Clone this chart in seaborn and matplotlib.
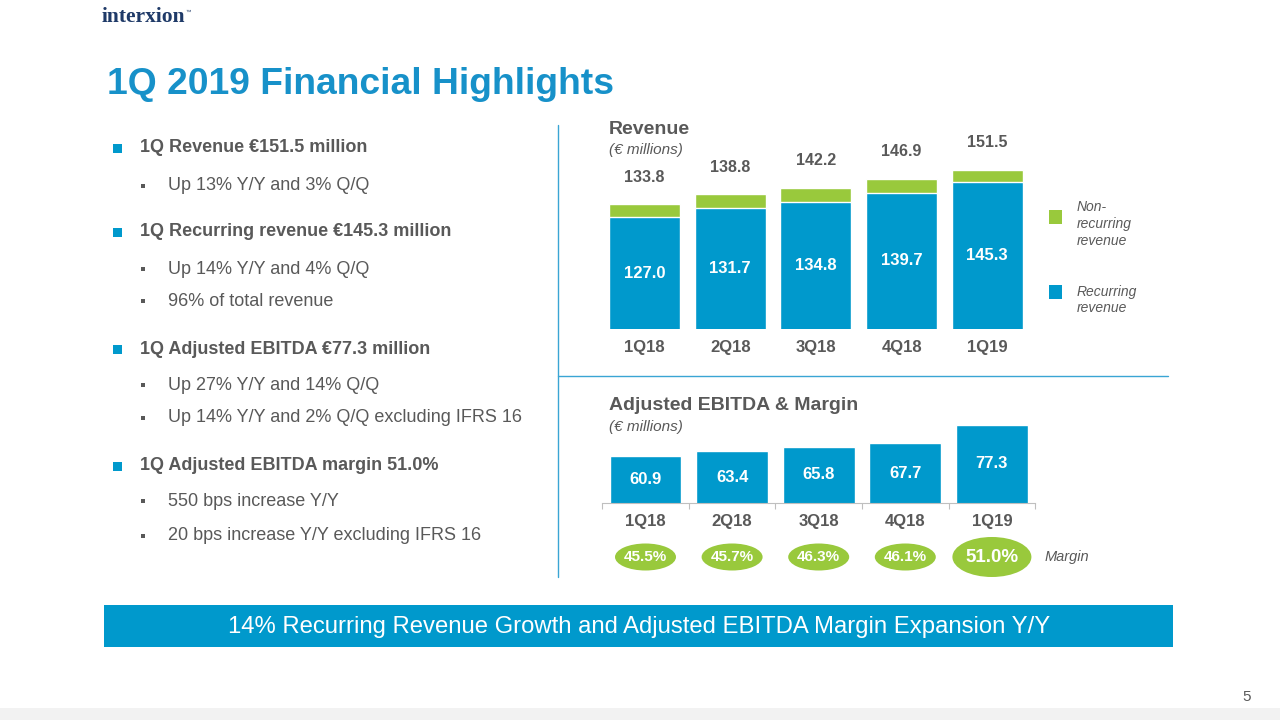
import matplotlib
matplotlib.use("Agg")
import matplotlib.pyplot as plt
from matplotlib.patches import Rectangle, Ellipse
import seaborn as sns
import pandas as pd

# ---------------- data ----------------
quarters = ["1Q18", "2Q18", "3Q18", "4Q18", "1Q19"]
total_revenue = [133.8, 138.8, 142.2, 146.9, 151.5]
recurring_revenue = [127.0, 131.7, 134.8, 139.7, 145.3]
adj_ebitda = [60.9, 63.4, 65.8, 67.7, 77.3]
ebitda_margin = [45.5, 45.7, 46.3, 46.1, 51.0]

bullets = [
    (0, "1Q Revenue €151.5 million"),
    (1, "Up 13% Y/Y and 3% Q/Q"),
    (0, "1Q Recurring revenue €145.3 million"),
    (1, "Up 14% Y/Y and 4% Q/Q"),
    (1, "96% of total revenue"),
    (0, "1Q Adjusted EBITDA €77.3 million"),
    (1, "Up 27% Y/Y and 14% Q/Q"),
    (1, "Up 14% Y/Y and 2% Q/Q excluding IFRS 16"),
    (0, "1Q Adjusted EBITDA margin 51.0%"),
    (1, "550 bps increase Y/Y"),
    (1, "20 bps increase Y/Y excluding IFRS 16"),
]
bullet_rows = [148, 186, 232, 269, 301, 349, 385, 418, 466, 501, 536]

title = "1Q 2019 Financial Highlights"
banner = "14% Recurring Revenue Growth and Adjusted EBITDA Margin Expansion Y/Y"

# ---------------- style ----------------
sns.set_theme(style="white")
plt.rcParams["font.family"] = ["Liberation Sans", "DejaVu Sans"]

BLUE = "#0099CC"
GREEN = "#99C93C"
TITLE_BLUE = "#1791C9"
GREY = "#595959"
LINE_BLUE = "#3AA5D4"
NAVY = "#1F3A68"

W, H = 1280, 720
fig = plt.figure(figsize=(12.8, 7.2), dpi=100)
fig.patch.set_facecolor("white")

# overlay in pixel coordinates for slide decorations
ov = fig.add_axes([0, 0, 1, 1])
ov.set_xlim(0, W)
ov.set_ylim(H, 0)
ov.axis("off")


def px_axes(left, top, width, height):
    return fig.add_axes([left / W, 1 - (top + height) / H, width / W, height / H])


# ---------------- revenue chart ----------------
ax1 = px_axes(601.65, 120, 428.5, 209)
df_rev = pd.DataFrame({"q": quarters, "total": total_revenue, "rec": recurring_revenue})
sns.barplot(data=df_rev, x="q", y="total", color=GREEN, saturation=1, width=0.83,
            errorbar=None, ax=ax1)
sns.barplot(data=df_rev, x="q", y="rec", color=BLUE, saturation=1, width=0.83,
            errorbar=None, ax=ax1)
ax1.set_xlim(-0.5, 4.5)
ax1.set_ylim(69, 177.3)
ax1.set_facecolor("none")
for s in ax1.spines.values():
    s.set_visible(False)
ax1.set_yticks([])
ax1.set_xlabel("")
ax1.set_ylabel("")
ax1.tick_params(axis="x", length=0, pad=8, labelsize=12, labelcolor=GREY)
for lbl in ax1.get_xticklabels():
    lbl.set_fontweight("bold")
ax1.bar_label(ax1.containers[0], labels=[f"{v:.1f}" for v in total_revenue],
              padding=14, color=GREY, fontsize=11.5, fontweight="bold")
ax1.bar_label(ax1.containers[1], labels=[f"{v:.1f}" for v in recurring_revenue],
              label_type="center", color="white", fontsize=12, fontweight="bold")

# ---------------- EBITDA chart ----------------
ax2 = px_axes(602.2, 415, 433, 88)
df_eb = pd.DataFrame({"q": quarters, "ebitda": adj_ebitda})
sns.barplot(data=df_eb, x="q", y="ebitda", color=BLUE, saturation=1, width=0.83,
            errorbar=None, ax=ax2)
ax2.set_xlim(-0.5, 4.5)
ax2.set_ylim(36, 82.56)
ax2.set_facecolor("none")
for k, s in ax2.spines.items():
    s.set_visible(k == "bottom")
ax2.spines["bottom"].set_color("#BFBFBF")
ax2.spines["bottom"].set_linewidth(0.8)
ax2.set_yticks([])
ax2.set_xlabel("")
ax2.set_ylabel("")
ax2.set_xticks([i - 0.5 for i in range(len(quarters) + 1)], minor=True)
ax2.tick_params(axis="x", which="minor", bottom=True, length=4, width=0.8,
                color="#BFBFBF", direction="out")
ax2.tick_params(axis="x", which="major", length=0, pad=8, labelsize=12, labelcolor=GREY)
for lbl in ax2.get_xticklabels():
    lbl.set_fontweight("bold")
ax2.bar_label(ax2.containers[0], labels=[f"{v:.1f}" for v in adj_ebitda],
              label_type="center", color="white", fontsize=12, fontweight="bold")

# margin ellipses under the EBITDA bars
for i, m in enumerate(ebitda_margin):
    xd = ax2.transData.transform((i, 0))[0]
    big = i == len(ebitda_margin) - 1
    w, h = (79, 40) if big else (61, 27)
    ov.add_patch(Ellipse((xd, 557), w, h, facecolor=GREEN, edgecolor="none"))
    ov.text(xd, 557, f"{m:.1f}%", ha="center", va="center", color="white",
            fontsize=13.5 if big else 11, fontweight="bold")
ov.text(1045, 557, "Margin", ha="left", va="center", color=GREY, fontsize=10.5,
        style="italic")

# ---------------- chart headers & legend ----------------
ov.text(609, 130, "Revenue", ha="left", va="center", color=GREY, fontsize=14,
        fontweight="bold")
ov.text(609, 150, "(€ millions)", ha="left", va="center", color=GREY, fontsize=11,
        style="italic")
ov.text(609, 406, "Adjusted EBITDA & Margin", ha="left", va="center", color=GREY,
        fontsize=14, fontweight="bold")
ov.text(609, 427, "(€ millions)", ha="left", va="center", color=GREY, fontsize=11,
        style="italic")

ov.add_patch(Rectangle((1049, 210), 13, 14, facecolor=GREEN, edgecolor="none"))
ov.text(1077, 224, "Non-\nrecurring\nrevenue", ha="left", va="center", color=GREY,
        fontsize=10, style="italic", linespacing=1.25)
ov.add_patch(Rectangle((1049, 285), 13, 14, facecolor=BLUE, edgecolor="none"))
ov.text(1077, 300, "Recurring\nrevenue", ha="left", va="center", color=GREY,
        fontsize=10, style="italic", linespacing=1.25)

# separators
ov.plot([558, 558], [125, 577], color=LINE_BLUE, lw=1)
ov.plot([558, 1168], [376, 376], color=LINE_BLUE, lw=1)

# ---------------- slide text ----------------
ov.text(102, 17, "interxion", ha="left", va="center", color=NAVY, fontsize=15.5,
        fontweight="bold", family=["Liberation Serif", "DejaVu Serif"])
ov.text(185, 12, "™", ha="left", va="center", color=NAVY, fontsize=4)
ov.text(107, 84, title, ha="left", va="center", color=TITLE_BLUE, fontsize=26.8,
        fontweight="bold")

for (lvl, txt), y in zip(bullets, bullet_rows):
    if lvl == 0:
        ov.add_patch(Rectangle((113, y - 4.5), 9, 9, facecolor=BLUE, edgecolor="none"))
        ov.text(140, y, txt, ha="left", va="center", color=GREY, fontsize=13,
                fontweight="bold")
    else:
        ov.add_patch(Rectangle((141, y - 2), 4, 4, facecolor=GREY, edgecolor="none"))
        ov.text(168, y, txt, ha="left", va="center", color=GREY, fontsize=13)

ov.add_patch(Rectangle((104, 605), 1069, 42, facecolor=BLUE, edgecolor="none"))
ov.text(639, 627, banner, ha="center", va="center", color="white", fontsize=17.2)

ov.add_patch(Rectangle((0, 708), 1280, 12, facecolor="#F2F2F2", edgecolor="none"))
ov.text(1247, 697, "5", ha="center", va="center", color=GREY, fontsize=11)

fig.savefig("out.png", dpi=100, facecolor="white")
